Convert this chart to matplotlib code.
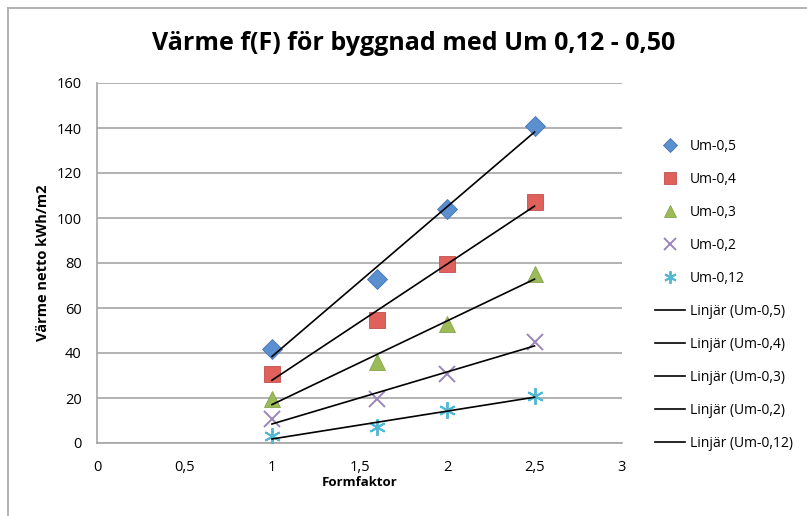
import numpy as np
import matplotlib.pyplot as plt
from matplotlib.lines import Line2D

# Formfaktor values
formfaktor = [1.0, 1.6, 2.0, 2.5]

# Värme netto kWh/m2 per Um value
um_050 = [42, 73, 104, 141]
um_040 = [30.5, 54.5, 79.5, 107]
um_030 = [19.5, 36, 53, 75]
um_020 = [10.5, 19.5, 30.5, 45]
um_012 = [3, 7, 14.5, 21]

labels = ['Um-0,5', 'Um-0,4', 'Um-0,3', 'Um-0,2', 'Um-0,12']
series = [um_050, um_040, um_030, um_020, um_012]

x_ticks = [0, 0.5, 1, 1.5, 2, 2.5, 3]
x_ticklabels = ['0', '0,5', '1', '1,5', '2', '2,5', '3']
y_ticks = [0, 20, 40, 60, 80, 100, 120, 140, 160]

colors = ['#5A8FD0', '#E0605C', '#9BBB59', '#9A85BA', '#55B8D2']
edges = ['#4575B4', '#C0504D', '#86A548', '#9A85BA', '#55B8D2']
markers = ['D', 's', '^', 'x', (6, 2, 0)]
sizes = [10, 12, 12, 12, 12]

plt.rcParams['font.family'] = ['Open Sans', 'DejaVu Sans']

fig = plt.figure(figsize=(8.07, 5.16), dpi=100)
ax = fig.add_axes([97 / 807, 73 / 516, 525 / 807, 360 / 516])

point_handles = []
for ys, lab, c, ec, m, s in zip(series, labels, colors, edges, markers, sizes):
    thin = m in ('x', (6, 2, 0))
    h, = ax.plot(formfaktor, ys, linestyle='none', marker=m, markersize=s,
                 markerfacecolor=c, markeredgecolor=ec,
                 markeredgewidth=1.4 if thin else 0.6,
                 color=c, label=lab, zorder=3)
    point_handles.append(h)

# linear trend lines (Linjär)
line_handles = []
xs = np.array([formfaktor[0], formfaktor[-1]])
for ys, lab in zip(series, labels):
    k, m = np.polyfit(formfaktor, ys, 1)
    h, = ax.plot(xs, k * xs + m, color='black', linewidth=1.2, zorder=4,
                 label='Linjär (' + lab + ')')
    line_handles.append(h)

ax.set_xlim(0, 3)
ax.set_ylim(0, 160)
ax.set_xticks(x_ticks)
ax.set_xticklabels(x_ticklabels)
ax.set_yticks(y_ticks)
ax.tick_params(length=0, labelsize=10.5)
ax.tick_params(axis='x', pad=12)
ax.tick_params(axis='y', pad=11)
ax.grid(axis='y', color='#A6A6A6', linewidth=1.2)
ax.set_axisbelow(True)
for sp in ['top', 'right']:
    ax.spines[sp].set_visible(False)
for sp in ['left', 'bottom']:
    ax.spines[sp].set_color('#A6A6A6')
    ax.spines[sp].set_linewidth(1.2)

ax.set_xlabel('Formfaktor', fontsize=9.5, fontweight='bold', labelpad=1)
ax.set_ylabel('Värme netto kWh/m2', fontsize=10.5, fontweight='bold', labelpad=5)

fig.text(414 / 807, 1 - 44 / 516, 'Värme f(F) för byggnad med Um 0,12 - 0,50',
         ha='center', va='center', fontsize=18, fontweight='bold')

fig.legend(handles=point_handles + line_handles, loc='center left',
           bbox_to_anchor=(655 / 807, 1 - 295 / 516), frameon=False,
           fontsize=10, markerscale=0.75, handlelength=2.15, handletextpad=0.35,
           labelspacing=1.3, borderpad=0, borderaxespad=0)

# outer chart border
fig.add_artist(Line2D([7.5 / 807, 7.5 / 807], [0, 1 - 8 / 516], color='#A6A6A6', linewidth=1.2))
fig.add_artist(Line2D([7.5 / 807, 1], [1 - 8 / 516, 1 - 8 / 516], color='#A6A6A6', linewidth=1.2))

fig.savefig('out.png', dpi=100)
